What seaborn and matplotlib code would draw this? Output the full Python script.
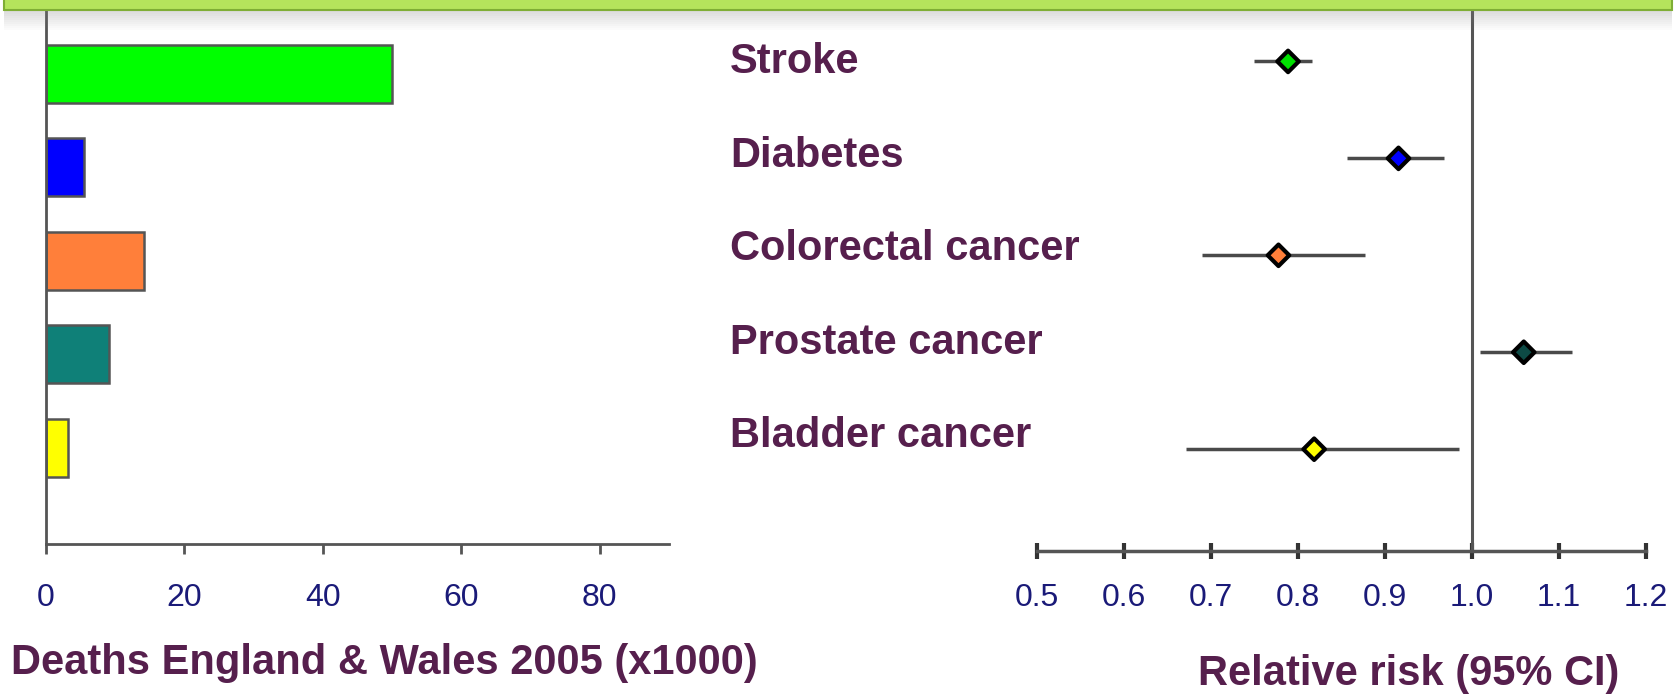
import matplotlib
matplotlib.use("Agg")
import matplotlib.pyplot as plt
from matplotlib.patches import Rectangle
import matplotlib.transforms as mtransforms
import seaborn as sns
import numpy as np

causes = ["Stroke", "Diabetes", "Colorectal cancer", "Prostate cancer", "Bladder cancer"]
deaths = [50.0, 5.5, 14.2, 9.1, 3.2]          # x1000, England & Wales 2005
rr = [0.789, 0.916, 0.778, 1.060, 0.819]
rr_lo = [0.750, 0.857, 0.690, 1.010, 0.672]
rr_hi = [0.816, 0.968, 0.877, 1.116, 0.986]
bar_colors = ["#00ff00", "#0000ff", "#ff7f3a", "#0f8078", "#ffff00"]
dot_colors = ["#00e000", "#0000ff", "#ff7f3a", "#0d4a45", "#ffff00"]
death_ticks = [0, 20, 40, 60, 80]
rr_ticks = [0.5, 0.6, 0.7, 0.8, 0.9, 1.0, 1.1, 1.2]

sns.set_style("white")
plt.rcParams["font.family"] = ["Liberation Sans", "DejaVu Sans"]

W, H = 1678, 695
purple = "#561f4d"
navy = "#1a1a78"
axcol = "#555555"
tickfont = {"family": ["Liberation Sans", "DejaVu Sans"], "size": 23}

fig = plt.figure(figsize=(W / 100, H / 100), dpi=100)

# top banner with shadow
for k in range(10):
    fig.patches.append(Rectangle((4 / W, 1 - (12 + 2 * k) / H), 1668 / W, 2 / H,
                                 transform=fig.transFigure, color="#808080",
                                 alpha=0.28 * (1 - k / 10), lw=0, zorder=0))
fig.patches.append(Rectangle((4 / W, 1 - 10 / H), 1668 / W, 14 / H,
                             transform=fig.transFigure, facecolor="#b5e45c",
                             edgecolor="#7fae35", lw=1.5, zorder=1))

# right: relative risk forest plot (drawn first so the labels sit on top)
ax2 = fig.add_axes([1036.7 / W, 1 - 551 / H, 608.8 / W, 540 / H])
ax2.set_facecolor("none")
rows = np.arange(len(causes))
rr_a = np.array(rr)
ax2.errorbar(rr_a, rows, xerr=[rr_a - np.array(rr_lo), np.array(rr_hi) - rr_a],
             fmt="none", ecolor="#4a4a4a", elinewidth=2.5, capsize=0, zorder=2)
sns.scatterplot(x=rr, y=rows, hue=causes, palette=dot_colors, marker="D", s=120,
                edgecolor="black", linewidth=3, legend=False, ax=ax2, zorder=3)
ax2.axvline(1.0, color=axcol, lw=2.2, zorder=1)
ax2.set_xlim(0.5, 1.2)
ax2.set_ylim(5.05, -0.52)
ax2.set_xticks(rr_ticks)
ax2.set_xticklabels([f"{t:.1f}" for t in rr_ticks], fontdict=tickfont, color=navy)
ax2.set_yticks([])
ax2.set_xlabel("")
ax2.set_ylabel("")
ax2.tick_params(axis="x", bottom=True, direction="inout", length=12, width=3,
                color="#333333", pad=17)
for s in ["top", "right", "left"]:
    ax2.spines[s].set_visible(False)
ax2.spines["bottom"].set_color(axcol)
ax2.spines["bottom"].set_linewidth(2.5)

# left: deaths bar chart
ax1 = fig.add_axes([46 / W, 1 - 544 / H, 623 / W, 533 / H])
ax1.set_facecolor("none")
sns.barplot(x=deaths, y=causes, hue=causes, palette=bar_colors, orient="h",
            width=0.62, saturation=1, edgecolor=axcol, linewidth=1.8,
            legend=False, ax=ax1)
ax1.set_xlim(0, 90)
ax1.set_ylim(5.03, -0.67)
ax1.set_xticks(death_ticks)
ax1.set_xticklabels([str(t) for t in death_ticks], fontdict=tickfont, color=navy)
ax1.set_yticks([])
ax1.set_xlabel("")
ax1.set_ylabel("")
ax1.tick_params(axis="x", bottom=True, direction="out", length=7, width=2,
                color=axcol, pad=21)
for s in ["top", "right"]:
    ax1.spines[s].set_visible(False)
for s in ["left", "bottom"]:
    ax1.spines[s].set_color(axcol)
    ax1.spines[s].set_linewidth(2)

# category labels in the middle
trans = mtransforms.blended_transform_factory(ax1.transAxes, ax1.transData)
for i, name in enumerate(causes):
    ax1.text(1.098, i - 0.12, name, transform=trans, ha="left", va="center",
             fontsize=30, fontweight="bold", color=purple, clip_on=False)

fig.text(11 / W, 1 - 663 / H, "Deaths England & Wales 2005 (x1000)", ha="left",
         va="center", fontsize=30, fontweight="bold", color=purple)
fig.text(1409 / W, 1 - 674 / H, "Relative risk (95% CI)", ha="center",
         va="center", fontsize=30, fontweight="bold", color=purple)

fig.savefig("out.png", dpi=100)
